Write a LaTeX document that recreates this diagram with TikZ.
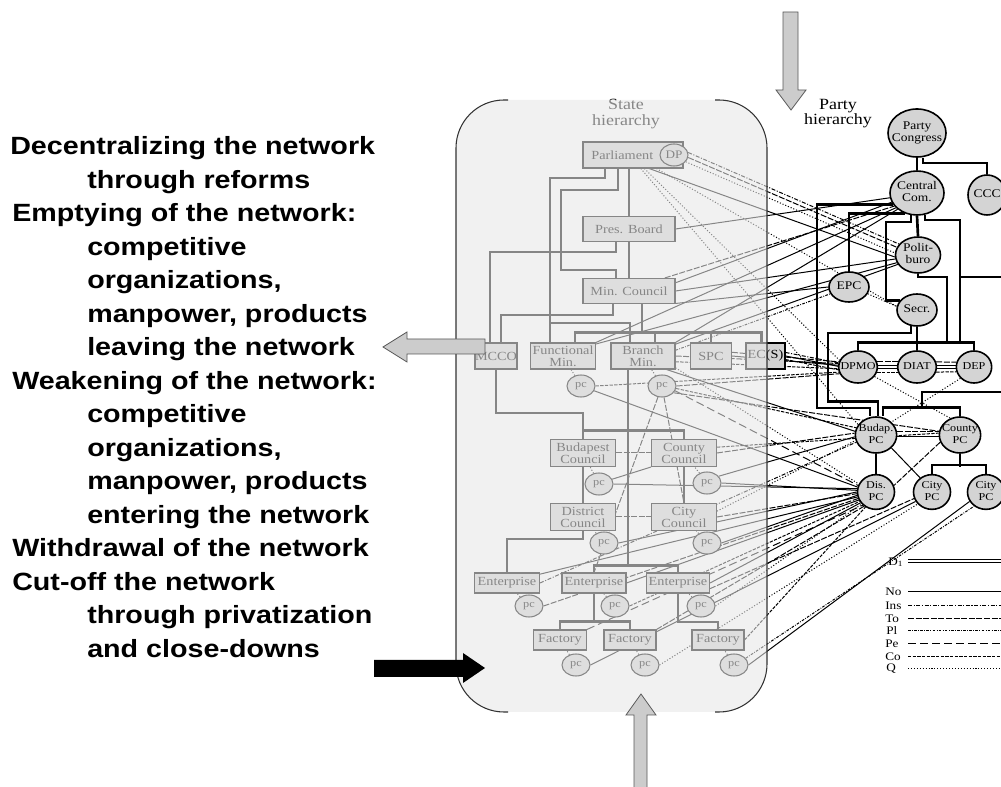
\documentclass[tikz,border=0pt]{standalone}
\usepackage{fontspec}
\usetikzlibrary{shapes.geometric,calc}
\newfontfamily\lfont[FakeStretch=1.15]{Liberation Sans}
\newfontfamily\dfont[FakeStretch=1.15]{Liberation Serif}
\newcommand{\ptxt}[1]{\makebox[0pt]{\begin{tabular}{@{}c@{}}#1\end{tabular}}}
\pgfdeclarelayer{back}\pgfdeclarelayer{edges}\pgfdeclarelayer{veil}\pgfdeclarelayer{top}
\pgfsetlayers{back,edges,main,veil,top}
\begin{document}
\begin{tikzpicture}[x=0.75pt,y=-0.75pt,
  sbox/.style={draw, line width=0.8pt, fill=gray!35, inner sep=0pt, minimum height=19.5pt, align=center, font=\dfont\fontsize{9.3}{9}\selectfont},
  pcn/.style={ellipse, draw, line width=0.8pt, fill=gray!35, inner sep=0pt, minimum width=21pt, minimum height=16.5pt, font=\dfont\fontsize{8}{8}\selectfont},
  pnode/.style={ellipse, draw, line width=1.2pt, fill=black!17, inner sep=0pt, font=\dfont\fontsize{8.8}{9.5}\selectfont},
  small/.style={font=\dfont\fontsize{7.9}{9.2}\selectfont},
  stree/.style={line width=2.2pt},
  ptree/.style={line width=2pt},
  cn/.style={line width=0.75pt},
  lNo/.style={cn},
  lIns/.style={cn, dash pattern=on 3pt off 1.2pt on 0.8pt off 1.2pt},
  lTo/.style={cn, dash pattern=on 4.5pt off 1.2pt},
  lPl/.style={cn, dash pattern=on 2pt off 1pt on 0.6pt off 1pt},
  lPe/.style={cn, dash pattern=on 6pt off 3pt},
  lCo/.style={cn, dash pattern=on 2.5pt off 1pt},
  lQ/.style={cn, dash pattern=on 0.8pt off 1.4pt},
  lD/.style={double, double distance=1.3pt, line width=1pt},
  garrow/.style={fill=black!20, draw=black!65, line width=0.6pt},
  lbl/.style={font=\lfont\bfseries\fontsize{18.7}{22}\selectfont, anchor=base west, inner sep=0pt},
  hier/.style={align=center, inner sep=0pt, font=\dfont\fontsize{11.7}{11.3}\selectfont},
  leg/.style={anchor=west, inner sep=0pt, font=\dfont\fontsize{8.6}{8.6}\selectfont}
]
\useasboundingbox (0,0) rectangle (1001,787);
\begin{pgfonlayer}{back}
\fill[white] (0,0) rectangle (1001,787);
\end{pgfonlayer}

% ---------- left text ----------
\node[lbl] (l1) at (10,154.7) {Decentralizing the network};
\node[lbl] (l2) at (87,188.2) {through reforms};
\node[lbl] (l3) at (12,221.7) {Emptying of the network:};
\node[lbl] (l4) at (87,255.2) {competitive};
\node[lbl] (l5) at (87,288.7) {organizations,};
\node[lbl] (l6) at (87,322.2) {manpower, products};
\node[lbl] (l7) at (87,355.7) {leaving the network};
\node[lbl] (l8) at (12,389.2) {Weakening of the network:};
\node[lbl] (l9) at (87,422.7) {competitive};
\node[lbl] (l10) at (87,456.2) {organizations,};
\node[lbl] (l11) at (87,489.7) {manpower, products};
\node[lbl] (l12) at (87,523.2) {entering the network};
\node[lbl] (l13) at (12,556.7) {Withdrawal of the network};
\node[lbl] (l14) at (12,590.2) {Cut-off the network};
\node[lbl] (l15) at (87,623.7) {through privatization};
\node[lbl] (l16) at (87,657.2) {and close-downs};

% ---------- state hierarchy ----------
\node[hier] (shl) at (626,114) {State\\hierarchy};
\node[sbox, minimum width=75pt] (parl) at (633,155) {Parliament\hspace*{16pt}};
\node[pcn, font=\dfont\fontsize{8.6}{8}\selectfont] (dp) at (674,155) {DP};
\node[sbox, minimum width=69pt, minimum height=18.75pt] (pres) at (629,229) {Pres. Board};
\node[sbox, minimum width=69pt, minimum height=18.75pt] (minc) at (629,291) {Min. Council};
\node[sbox, minimum width=31.5pt] (mcco) at (496,356) {MCCO};
\node[sbox, minimum width=48.75pt] (fmin) at (563,356) {Functional\\Min.};
\node[sbox, minimum width=48pt] (bmin) at (643,356) {Branch\\Min.};
\node[sbox, minimum width=30.75pt] (spc) at (711,356) {SPC};
\node[sbox, minimum width=29.25pt] (ecs) at (765.5,356) {EC(S)};
\node[sbox, minimum width=48.75pt, minimum height=20.25pt] (bcoun) at (583,453) {Budapest\\Council};
\node[sbox, minimum width=48.75pt, minimum height=20.25pt] (ccoun) at (684,453) {County\\Council};
\node[sbox, minimum width=48.75pt, minimum height=20.25pt] (dcoun) at (583,517) {District\\Council};
\node[sbox, minimum width=48.75pt, minimum height=20.25pt] (ctcoun) at (684,517) {City\\Council};
\node[sbox, minimum width=48.75pt, minimum height=15pt] (ent1) at (507,583) {Enterprise};
\node[sbox, minimum width=48pt, minimum height=15pt] (ent2) at (594,583) {Enterprise};
\node[sbox, minimum width=47.25pt, minimum height=15pt] (ent3) at (678,583) {Enterprise};
\node[sbox, minimum width=39.75pt, minimum height=15pt] (fac1) at (560,640) {Factory};
\node[sbox, minimum width=39pt, minimum height=15pt] (fac2) at (630,640) {Factory};
\node[sbox, minimum width=39pt, minimum height=15pt] (fac3) at (718,640) {Factory};
\node[pcn] (pcf) at (581,386) {pc};
\node[pcn] (pcb) at (662,386) {pc};
\node[pcn] (pcbud) at (599,484) {pc};
\node[pcn] (pccty) at (707,483) {pc};
\node[pcn] (pcdis) at (604,543) {pc};
\node[pcn] (pccity) at (707,543) {pc};
\node[pcn] (pce1) at (529,606) {pc};
\node[pcn] (pce2) at (615,606) {pc};
\node[pcn] (pce3) at (701,606) {pc};
\node[pcn] (pcf1) at (576,665) {pc};
\node[pcn] (pcf2) at (645,665) {pc};
\node[pcn] (pcf3) at (734,665) {pc};

% ---------- party hierarchy ----------
\node[hier] (phl) at (838,114) {Party\\hierarchy};
\node[pnode, minimum width=43.5pt, minimum height=36pt] (pcong) at (917,133) {\ptxt{Party\\Congress}};
\node[pnode, minimum width=40.5pt, minimum height=33pt] (ccom) at (917,193) {\ptxt{Central\\Com.}};
\node[pnode, minimum width=28.5pt, minimum height=30pt] (ccc) at (987,195) {\ptxt{CCC}};
\node[pnode, minimum width=33.75pt, minimum height=27pt] (pbur) at (918,255) {\ptxt{Polit-\\buro}};
\node[pnode, minimum width=30pt, minimum height=22.5pt] (epc) at (849,287) {\ptxt{EPC}};
\node[pnode, minimum width=30pt, minimum height=24pt] (secr) at (917,310) {\ptxt{Secr.}};
\node[pnode, small, minimum width=29pt, minimum height=24pt] (dpmo) at (858,367) {\ptxt{DPMO}};
\node[pnode, small, minimum width=29pt, minimum height=24pt] (diat) at (917,367) {\ptxt{DIAT}};
\node[pnode, small, minimum width=26.5pt, minimum height=24pt] (dep) at (974,367) {\ptxt{DEP}};
\node[pnode, small, minimum width=31pt, minimum height=27pt] (bpc) at (876,435) {\ptxt{Budap.\\PC}};
\node[pnode, small, minimum width=31pt, minimum height=27pt] (cpc) at (960,435) {\ptxt{County\\PC}};
\node[pnode, small, minimum width=27.75pt, minimum height=25.5pt] (dpc) at (876,492) {\ptxt{Dis.\\PC}};
\node[pnode, small, minimum width=27.75pt, minimum height=25.5pt] (city1) at (932,492) {\ptxt{City\\PC}};
\node[pnode, small, minimum width=27.75pt, minimum height=25.5pt] (city2) at (986,492) {\ptxt{City\\PC}};
\coordinate (offA) at (1001,277);
\coordinate (offB) at (1001,392);

% ---------- legend ----------
\node[leg] (lgD) at (888,562) {D\textsubscript{1}};
\node[leg] (lgNo) at (885,592) {No};
\node[leg] (lgIns) at (885,605.5) {Ins};
\node[leg] (lgTo) at (885,618.5) {To};
\node[leg] (lgPl) at (886,631) {Pl};
\node[leg] (lgPe) at (885,644) {Pe};
\node[leg] (lgCo) at (885,657) {Co};
\node[leg] (lgQ) at (886,669) {Q};
\draw[lD] (908,561) -- (1001,561);
\draw[lNo] (908,592) -- (1001,592);
\draw[lIns] (908,605.5) -- (1001,605.5);
\draw[lTo] (908,618.5) -- (1001,618.5);
\draw[lPl] (908,631) -- (1001,631);
\draw[lPe] (908,644) -- (1001,644);
\draw[lCo] (908,657) -- (1001,657);
\draw[lQ] (908,669) -- (1001,669);

\begin{pgfonlayer}{edges}
% pc ticks
\foreach \p/\b in {pcf/fmin,pcb/bmin,pcbud/bcoun,pccty/ccoun,pcdis/dcoun,pccity/ctcoun,pce1/ent1,pce2/ent2,pce3/ent3,pcf1/fac1,pcf2/fac2,pcf3/fac3}
  \draw[lQ] (\p) -- (\b);
% connectors state -> party
\draw[lTo] (dp.-10) -- (pbur.160);
\draw[lQ] (dp.-30) -- (pbur.175);
\draw[lIns] (dp.10) -- (pbur.150);
\draw[lNo] (parl.-40) -- (pbur.185);
\draw[lQ] (parl.-60) -- (bpc.150);
\draw[lQ] (parl.-50) -- (dpmo.160);
\draw[lQ] (parl.-30) -- (secr.170);
\draw[lNo] (pres.east) -- (ccom.190);
\draw[lNo] (minc.10) -- (ccom.200);
\draw[lTo] (minc.20) -- (ccom.210);
\draw[lNo] (minc.east) -- (pbur.190);
\draw[lNo] (minc.-15) -- (epc.180);
\draw[lNo] (fmin.north east) -- (ccom.215);
\draw[lNo] (fmin.20) -- (pbur.200);
\draw[lNo] (bmin.north east) -- (ccom.220);
\draw[lNo] (bmin.20) -- (pbur.205);
\draw[lPl] (bmin.10) -- (epc.200);
\draw[lTo] (bmin.east) -- (dpmo.170);
\draw[lCo] (bmin.-10) -- (dpmo.185);
\draw[lTo] (spc.10) -- (dpmo.165);
\draw[lNo] (spc.east) -- (dpmo.175);
\draw[lNo] (ecs.east) -- (dpmo.178);
\draw[lCo] (ecs.-10) -- (dpmo.188);
\draw[lIns] (ecs.10) -- (dpmo.168);
\draw[lCo] (pcf.east) -- (dpmo.195);
\draw[lNo] (pcf.-20) -- (dpc.165);
\draw[lTo] (pcb.east) -- (dpmo.200);
\draw[lCo] (pcb.-10) -- (bpc.160);
\draw[lPe] (pcb.-20) -- (dpc.160);
\draw[lTo] (pcb.-30) -- (cpc.170);
\draw[lQ] (bmin.-20) -- (dpc.155);
\draw[lNo] (bmin.-30) -- (bpc.170);
\draw[lTo] (pcb.-80) -- (ctcoun.north);
\draw[lTo] (pcb.-110) -- (ent2.north);
\draw[lTo] (bcoun) -- (ccoun);
\draw[lTo] (dcoun) -- (ctcoun);
\draw[lNo] (pcbud.20) -- (ccoun.south west);
\draw[lNo] (pcbud.east) -- (dpc.170);
\draw[lTo] (ccoun.east) -- (bpc.175);
\draw[lCo] (ccoun.10) -- (cpc.175);
\draw[lNo] (pccty.30) -- (bpc.185);
\draw[lNo] (pccty.east) -- (dpc.175);
\draw[lNo] (pcdis.east) -- (dpc.180);
\draw[lTo] (ctcoun.east) -- (dpc.185);
\draw[lQ] (ctcoun.10) -- (bpc.195);
\draw[lNo] (pccity.east) -- (dpc.190);
\draw[lNo] (ent1.15) -- (dpc.195);
\draw[lIns] (ent1.east) -- (bpc.200);
\draw[lTo] (pce1.east) -- (dpc.200);
\draw[lNo] (ent2.east) -- (dpc.205);
\draw[lCo] (pce2.east) -- (dpc.210);
\draw[lNo] (ent3.east) -- (dpc.215);
\draw[lTo] (ent3.-10) -- (city1.200);
\draw[lQ] (pce3.east) -- (dpc.220);
\draw[lPe] (fac1.north east) -- (dpc.225);
\draw[lNo] (pcf1.east) -- (city1.210);
\draw[lTo] (fac2.north east) -- (dpc.230);
\draw[lQ] (pcf2.east) -- (city1.220);
\draw[lCo] (fac3.east) -- (dpc.235);
\draw[lNo] (pcf3.east) -- (city2.210);
\draw[lPl] (pcf3.30) -- (city2.230);
% party-side connectors
\draw[lQ] (dpmo.-30) -- (cpc.120);
\draw[lQ] (dep.220) -- (bpc.40);
\draw[lQ] (epc.-20) -- (secr.170);
\draw[lTo] (bpc.10) -- (cpc.170);
\draw[lNo] (bpc.-5) -- (cpc.185);
\draw[lNo] (bpc.-40) -- (city1.130);
\draw[lTo] (cpc.200) -- (dpc.20);
\draw[lD] (dpmo) -- (diat);
\draw[lD] (diat) -- (dep);
\draw[lTo] (dpmo.15) -- (diat.165);
\draw[lCo] (dpmo.-15) -- (diat.195);
\draw[lTo] (diat.15) -- (dep.165);
\draw[lCo] (diat.-15) -- (dep.195);

% state tree
\draw[stree] ($(parl.south)+(-28,0)$) |- (550,178) -- ($(fmin.north)+(-13,0)$);
\draw[stree] (550,323) -| ($(bmin.north)+(-13,0)$);
\draw[stree] ($(parl.south)+(-15,0)$) |- (561,190) |- (616,270) -- ($(minc.north)+(-13,0)$);
\draw[stree] ($(parl.south)+(-4,0)$) -- (pres.north);
\draw[stree] (pres.south) -- (minc.north);
\draw[stree] ($(pres.south)+(-13,0)$) |- (490,252) -- ($(mcco.north)+(-6,0)$);
\draw[stree] ($(minc.south)+(-16,0)$) |- (501,315) -- ($(mcco.north)+(5,0)$);
\draw[stree] ($(minc.south)+(13,0)$) -- (642,333);
\draw[stree] ($(fmin.north)+(12,0)$) |- ($(ecs.north)+(-4,-10)$) -- ($(ecs.north)+(-4,0)$);
\draw[stree] ($(bmin.north)+(12,0)$) -- ++(0,-10);
\draw[stree] (spc.north) -- ++(0,-10);
\draw[stree] (mcco.south) |- (583,413) -- (bcoun.north);
\draw[stree] ($(bmin.south)+(-15,0)$) -- (628,566);
\draw[stree] (bcoun.north) ++(0,-8) -| (ccoun.north);
\draw[stree] (bcoun.south) -- (dcoun.north);
\draw[stree] (ccoun.south) -- (ctcoun.north);
\draw[stree] (dcoun.south) |- (507,539) -- (ent1.north);
\draw[stree] (ent2.north) -- ++(0,-7) -| (ent3.north);
\draw[stree] (ent2.south) -- ++(0,29);
\draw[stree] (fac1.north) -- ++(0,-8) -| (fac2.north);
\draw[stree] (ent3.south) |- (718,622) -- (fac3.north);

% party tree
\draw[ptree] (pcong.south) -- (ccom.north);
\draw[ptree] ($(pcong.south)+(6,0)$) |- (987,163) -- (ccc.north);
\draw[ptree] (ccom.south) -- (pbur.north);
\draw[ptree] (ccom.205) -| (817,408) -| ($(bpc.north)+(-6,0)$);
\draw[ptree] (ccom.240) -| (epc.north);
\draw[ptree] (ccom.255) |- (886,222) |- (secr.150);
\draw[ptree] (ccom.290) |- (960,220) -- (960,343);
\draw[ptree] (960,277) -- (offA);
\draw[ptree] (pbur.south) |- (947,277) -- (947,343);
\draw[ptree] (dpmo.north) -- ++(0,-8) -| (dep.north);
\draw[ptree] (secr.south) -- (diat.north);
\draw[ptree] (secr.250) |- (828,333) |- ($(bpc.north)+(2,-15)$) -- ($(bpc.north)+(2,0)$);
\draw[ptree] (offB) -| (922,408);
\draw[ptree] ($(bpc.north)+(7,0)$) -- ++(0,-9) -| (cpc.north);
\draw[ptree] (bpc.south) -- (dpc.north);
\draw[ptree] (cpc.south) -- ++(0,13);
\draw[ptree] (city1.north) -- ++(0,-9) -| (city2.north);
\end{pgfonlayer}

% ---------- veil over state hierarchy ----------
\begin{pgfonlayer}{veil}
\fill[black!9, opacity=0.58, rounded corners=36pt] (456,100) rectangle (767,712);
\end{pgfonlayer}

\begin{pgfonlayer}{top}
\begin{scope}
\clip (440,90) rectangle (508,725) (440,140) rectangle (780,672) (715,90) rectangle (780,725);
\draw[line width=0.8pt, black!80, rounded corners=36pt] (456,100) rectangle (767,712);
\end{scope}
% arrows
\draw[garrow] (485,339) -- (407,339) -- (407,332) -- (383,347) -- (407,362) -- (407,354) -- (485,354) -- cycle;
\fill[black] (374,660) -- (463,660) -- (463,653) -- (485,668) -- (463,683) -- (463,677) -- (374,677) -- cycle;
\draw[garrow] (783,12) -- (798,12) -- (798,90) -- (806,90) -- (791,110) -- (776,90) -- (783,90) -- cycle;
\draw[garrow] (634,790) -- (634,715) -- (626,715) -- (641,694) -- (656,715) -- (647,715) -- (647,790) -- cycle;
\end{pgfonlayer}
\end{tikzpicture}
\end{document}
